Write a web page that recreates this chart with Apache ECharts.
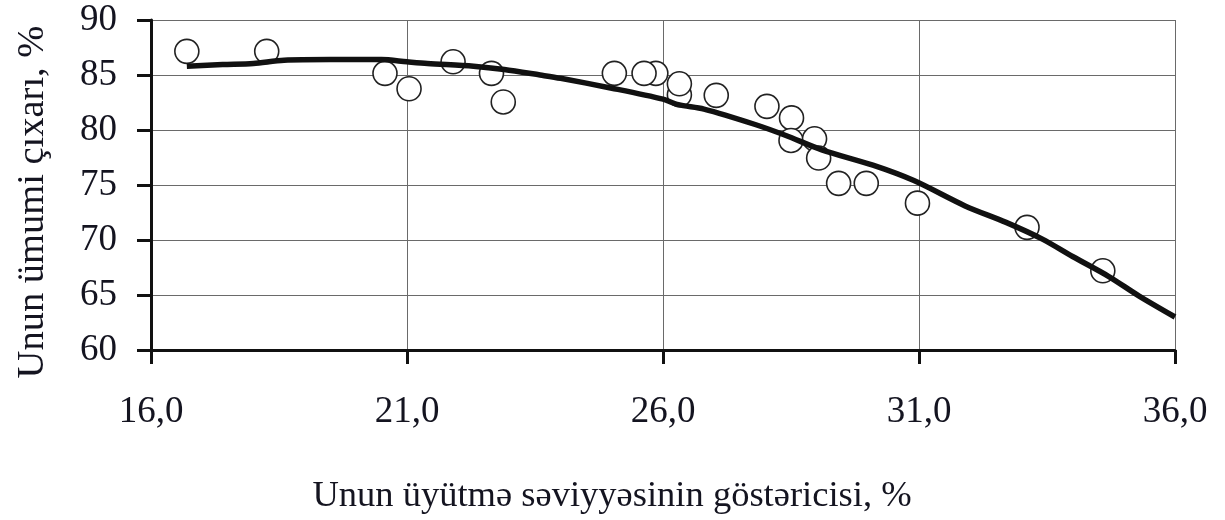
<!DOCTYPE html>
<html>
<head>
<meta charset="utf-8">
<script src="https://cdn.jsdelivr.net/npm/echarts@6/dist/echarts.min.js"></script>
<style>
html,body{margin:0;padding:0;background:#fff;}
#chart{width:1225px;height:520px;}
</style>
</head>
<body>
<div id="chart"></div>
<script>
// Observed points: grinding degree (%), total flour yield (%)
const pointX = [16.70, 18.26, 20.57, 21.04, 21.90, 22.65, 22.88, 25.05, 25.86, 25.63, 26.32, 26.32, 27.04, 28.03, 28.51, 28.50, 28.96, 29.04, 29.43, 29.97, 30.97, 33.11, 34.59];
const pointY = [87.15, 87.15, 85.15, 83.75, 86.2, 85.15, 82.55, 85.15, 85.15, 85.15, 83.2, 84.2, 83.15, 82.15, 81.1, 79.05, 79.2, 77.45, 75.15, 75.15, 73.35, 71.15, 67.2];
// Fitted curve
const curveX = [16.7, 17.4, 18.0, 18.6, 19.5, 20.5, 21.0, 21.4, 22.3, 22.9, 23.6, 24.0, 25.0, 26.0, 26.3, 26.8, 27.8, 28.4, 29.1, 30.1, 30.9, 31.9, 32.7, 33.4, 34.0, 34.7, 35.3, 36.0];
const curveY = [85.8, 85.95, 86.05, 86.35, 86.4, 86.4, 86.2, 86.05, 85.8, 85.5, 85.0, 84.7, 83.8, 82.8, 82.3, 81.9, 80.5, 79.5, 78.2, 76.8, 75.4, 73.1, 71.6, 70.1, 68.5, 66.7, 64.9, 63.0];
// Tick labels
const xTickValues = [16, 21, 26, 31, 36];
const xTickLabels = ['16,0', '21,0', '26,0', '31,0', '36,0'];
const yTickLabels = ['60', '65', '70', '75', '80', '85', '90'];
const xTitle = 'Unun üyütmə səviyyəsinin göstəricisi, %';
const yTitle = 'Unun ümumi çıxarı, %';

const FONT = '"Liberation Serif", "Times New Roman", serif';
const TXT = '#141420';

const chart = echarts.init(document.getElementById('chart'), null, {renderer: 'canvas'});
chart.setOption({
  animation: false,
  backgroundColor: '#ffffff',
  grid: {left: 151, right: 50, top: 20, bottom: 168, containLabel: false},
  xAxis: {
    type: 'value', min: 16, max: 36, interval: 5,
    name: xTitle, nameLocation: 'middle', nameGap: 128,
    nameTextStyle: {fontFamily: FONT, fontSize: 36.5, color: TXT, padding: [0, 102, 0, 0]},
    axisLine: {show: true, onZero: false, lineStyle: {color: '#111', width: 3}},
    axisTick: {show: true, inside: false, length: 14, lineStyle: {color: '#111', width: 3}},
    axisLabel: {
      fontFamily: FONT, fontSize: 37, color: TXT, margin: 44,
      formatter: v => { const i = xTickValues.indexOf(v); return i >= 0 ? xTickLabels[i] : ''; }
    },
    splitLine: {show: true, lineStyle: {color: '#6a6a6a', width: 1}}
  },
  yAxis: {
    type: 'value', min: 60, max: 90, interval: 5,
    name: yTitle, nameLocation: 'middle', nameGap: 99, nameRotate: 90,
    nameTextStyle: {fontFamily: FONT, fontSize: 38.5, color: TXT, padding: [0, 34, 0, 0]},
    axisLine: {show: true, onZero: false, lineStyle: {color: '#111', width: 3}},
    axisTick: {show: true, inside: false, length: 14, lineStyle: {color: '#111', width: 3}},
    axisLabel: {
      fontFamily: FONT, fontSize: 37, color: TXT, margin: 34,
      formatter: v => { const i = Math.round((v - 60) / 5); return yTickLabels[i] !== undefined ? yTickLabels[i] : ''; }
    },
    splitLine: {show: true, lineStyle: {color: '#6a6a6a', width: 1}}
  },
  series: [
    {
      type: 'scatter', z: 2,
      symbol: 'circle', symbolSize: 24,
      itemStyle: {color: '#ffffff', borderColor: '#222', borderWidth: 1.6, opacity: 1},
      data: pointX.map((x, i) => [x, pointY[i]])
    },
    {
      type: 'line', z: 3,
      showSymbol: false, smooth: 0.3,
      lineStyle: {color: '#111', width: 5.5},
      data: curveX.map((x, i) => [x, curveY[i]])
    }
  ]
});
</script>
</body>
</html>
